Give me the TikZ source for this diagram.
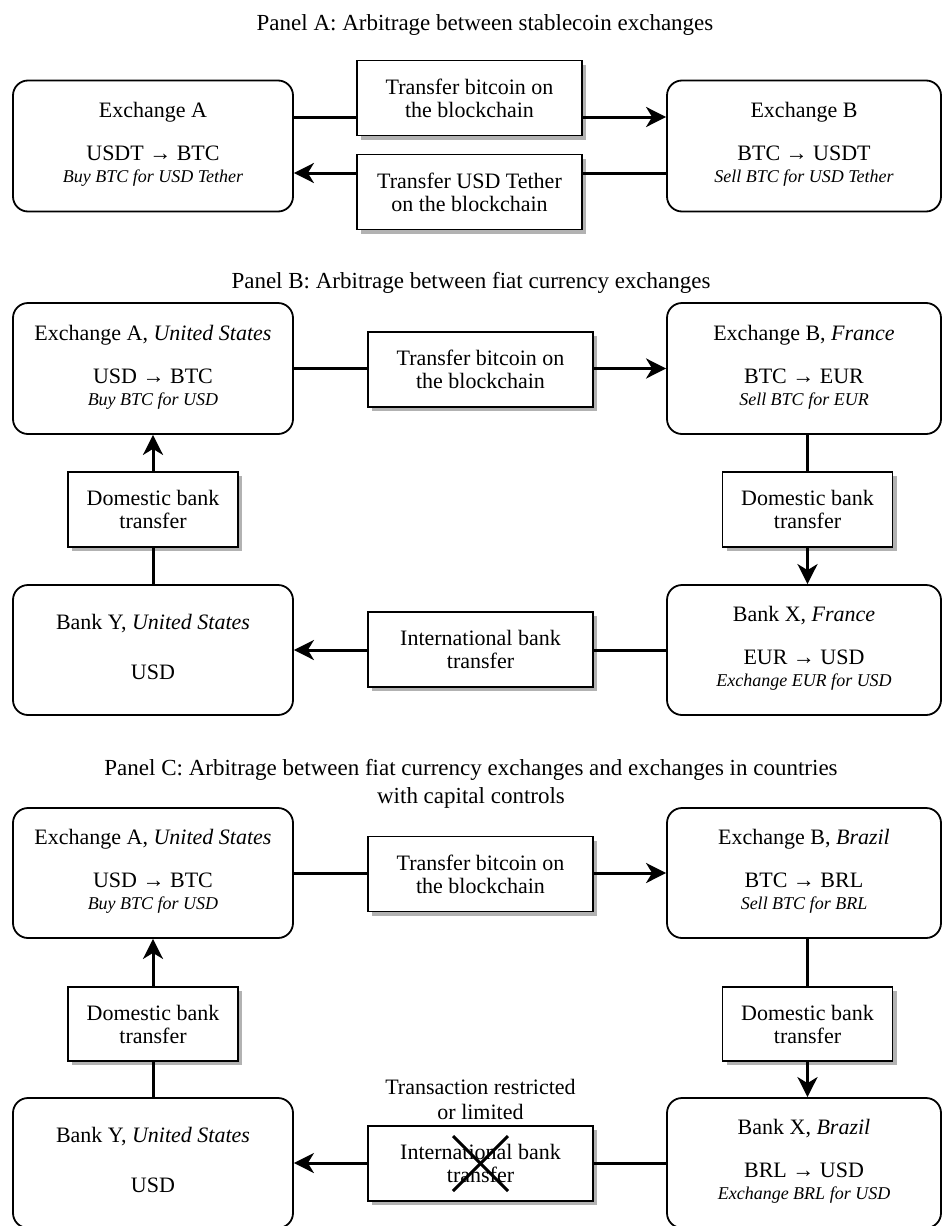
\documentclass[tikz,border=0pt]{standalone}
\usepackage{fontspec}
\setmainfont{Liberation Serif}
\usetikzlibrary{arrows.meta,shadows,calc}
\newcommand\xtext[3]{\begin{tabular}{@{}c@{}}#1\\[21pt]#2\\{\fontsize{18}{18}\selectfont\itshape #3}\end{tabular}}
\newcommand\ytext[2]{\begin{tabular}{@{}c@{}}#1\\[28pt]#2\end{tabular}}
\tikzset{
 xbox/.style={draw, line width=1.8pt, rounded corners=15pt, minimum width=280pt, minimum height=131pt, inner sep=0pt, fill=white, font=\fontsize{22}{22}\selectfont},
 xboxr/.style={xbox, minimum width=274pt},
 lbox/.style={draw, line width=1.8pt, fill=white, inner sep=0pt, minimum width=225pt, minimum height=75pt, align=center, font=\fontsize{22}{23}\selectfont, drop shadow={shadow xshift=4pt, shadow yshift=-4pt, fill=black!30, opacity=1}},
 dbox/.style={lbox, minimum width=170pt},
 conn/.style={line width=3pt},
 arr/.style={conn, -{Stealth[length=20pt,width=20pt,inset=6pt]}},
 ttl/.style={font=\fontsize{23}{28}\selectfont, align=center},
 note/.style={font=\fontsize{22}{25}\selectfont, align=center},
}
\begin{document}
\begin{tikzpicture}[x=1pt,y=-1pt]
\useasboundingbox (0,0) rectangle (943,1226);
\fill[white] (0,0) rectangle (943,1226);
% ---------- Panel A ----------
\node[ttl] (tA) at (485,25) {Panel A: Arbitrage between stablecoin exchanges};
\node[xbox] (aA) at (153,146) {\xtext{Exchange A}{USDT → BTC}{Buy BTC for USD Tether}};
\node[xboxr] (aB) at (804,146) {\xtext{Exchange B}{BTC → USDT}{Sell BTC for USD Tether}};
\node[lbox] (aT1) at (469.5,98) {Transfer bitcoin on\\the blockchain};
\node[lbox] (aT2) at (469.5,192) {Transfer USD Tether\\on the blockchain};
\coordinate (aL1) at (0,117);
\coordinate (aL2) at (0,173);
\draw[conn] (aA.east |- aL1) -- (aT1.west |- aL1);
\draw[arr] (aT1.east |- aL1) -- (aB.west |- aL1);
\draw[conn] (aB.west |- aL2) -- (aT2.east |- aL2);
\draw[arr] (aT2.west |- aL2) -- (aA.east |- aL2);
% ---------- Panel B ----------
\node[ttl] (tB) at (471,283) {Panel B: Arbitrage between fiat currency exchanges};
\node[xbox] (bA) at (153,368.5) {\xtext{Exchange A, \textit{United States}}{USD → BTC}{Buy BTC for USD}};
\node[xboxr] (bB) at (804,368.5) {\xtext{Exchange B, \textit{France}}{BTC → EUR}{Sell BTC for EUR}};
\node[lbox] (bT) at (480.5,369.5) {Transfer bitcoin on\\the blockchain};
\node[dbox] (bDA) at (153,509.5) {Domestic bank\\transfer};
\node[dbox] (bDB) at (807.5,509.5) {Domestic bank\\transfer};
\node[xbox, minimum height=130pt] (bY) at (153,650) {\ytext{Bank Y, \textit{United States}}{USD}};
\node[xboxr, minimum height=130pt] (bX) at (804,650) {\xtext{Bank X, \textit{France}}{EUR → USD}{Exchange EUR for USD}};
\node[lbox] (bI) at (480.5,649.5) {International bank\\transfer};
\draw[conn] (bA.east) -- (bT.west |- bA.east);
\draw[arr] (bT.east |- bA.east) -- (bB.west);
\draw[conn] (bB.south -| bDB) -- (bDB.north);
\draw[arr] (bDB.south) -- (bX.north -| bDB);
\draw[conn] (bX.west) -- (bI.east |- bX.west);
\draw[arr] (bI.west |- bX.west) -- (bY.east);
\draw[conn] (bY.north) -- (bDA.south);
\draw[arr] (bDA.north) -- (bA.south);
% ---------- Panel C ----------
\node[ttl] (tC) at (471,784) {Panel C: Arbitrage between fiat currency exchanges and exchanges in countries\\with capital controls};
\node[xbox, minimum height=130pt] (cA) at (153,873) {\xtext{Exchange A, \textit{United States}}{USD → BTC}{Buy BTC for USD}};
\node[xboxr, minimum height=130pt] (cB) at (804,873) {\xtext{Exchange B, \textit{Brazil}}{BTC → BRL}{Sell BTC for BRL}};
\node[lbox] (cT) at (480.5,874) {Transfer bitcoin on\\the blockchain};
\node[dbox, minimum height=74pt] (cDA) at (153,1024) {Domestic bank\\transfer};
\node[dbox, minimum height=74pt] (cDB) at (807.5,1024) {Domestic bank\\transfer};
\node[xbox, minimum height=130pt] (cY) at (153,1163) {\ytext{Bank Y, \textit{United States}}{USD}};
\node[xboxr, minimum height=130pt] (cX) at (804,1163) {\xtext{Bank X, \textit{Brazil}}{BRL → USD}{Exchange BRL for USD}};
\node[lbox] (cI) at (480.5,1163.5) {International bank\\transfer};
\node[note] (cN) at (480.5,1099.5) {Transaction restricted\\or limited};
\draw[conn] (cA.east) -- (cT.west |- cA.east);
\draw[arr] (cT.east |- cA.east) -- (cB.west);
\draw[conn] (cB.south -| cDB) -- (cDB.north);
\draw[arr] (cDB.south) -- (cX.north -| cDB);
\draw[conn] (cX.west) -- (cI.east |- cX.west);
\draw[arr] (cI.west |- cX.west) -- (cY.east);
\draw[conn] (cY.north) -- (cDA.south);
\draw[arr] (cDA.north) -- (cA.south);
\draw[line width=3pt] ($(cI.center)+(-27.5,-27.5)$) -- ($(cI.center)+(27.5,27.5)$);
\draw[line width=3pt] ($(cI.center)+(27.5,-27.5)$) -- ($(cI.center)+(-27.5,27.5)$);
\end{tikzpicture}
\end{document}
